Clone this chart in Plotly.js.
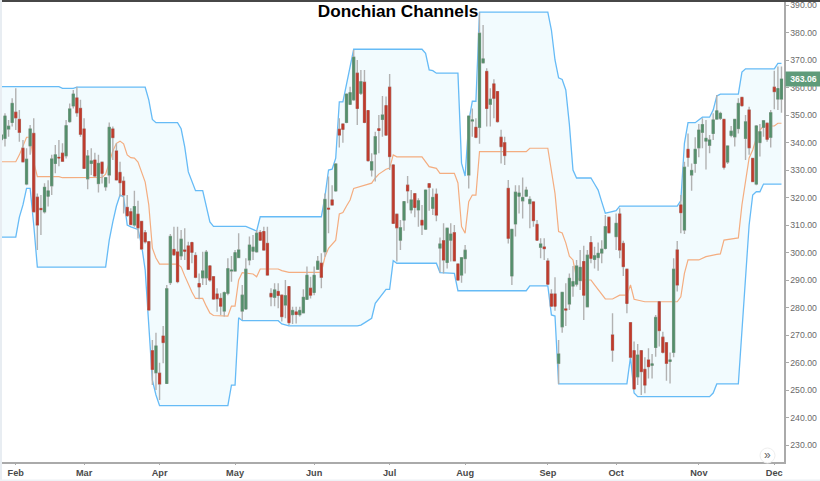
<!DOCTYPE html>
<html><head><meta charset="utf-8">
<script src="https://cdn.plot.ly/plotly-3.0.1.min.js"></script>
<style>html,body{margin:0;padding:0;background:#fff}</style></head>
<body><div id="chart" style="width:820px;height:481px"></div>
<script>
const chartTitle = "Donchian Channels";
const lastPrice = 363.06;
const monthLabels = ["Feb","Mar","Apr","May","Jun","Jul","Aug","Sep","Oct","Nov","Dec"];
const monthIndex = [4,23,44,65,87,108,129,152,171,194,215];
const priceTicks = [230,240,250,260,270,280,290,300,310,320,330,340,350,360,370,380,390];

const opens = [
341.1,341.5,344.9,347.3,351.0,348.4,337.9,324.9,338.8,343.3,
320.1,316.0,314.8,320.5,324.3,332.4,334.6,336.1,335.2,347.6,
353.3,356.2,352.4,344.9,326.8,332.4,333.6,325.1,332.8,323.9,
328.2,344.9,336.9,329.1,325.9,316.4,314.8,310.0,313.9,311.3,
307.2,303.9,264.3,256.3,256.1,269.6,252.4,289.1,301.1,300.2,
298.8,300.9,302.4,303.6,298.9,288.7,290.8,290.8,295.1,291.2,
284.9,283.3,278.7,285.2,293.3,293.3,298.2,278.7,279.5,297.3,
300.5,300.3,307.3,307.6,303.3,285.1,283.7,285.8,284.5,280.9,
287.6,277.4,278.4,277.4,278.1,283.0,287.0,285.5,293.9,296.1,
300.3,316.1,319.1,322.4,344.8,346.7,347.3,353.9,355.5,365.2,
357.9,361.9,351.6,330.0,335.8,345.0,348.4,353.4,360.1,331.8,
313.9,304.5,311.8,324.5,315.5,321.4,315.5,311.7,308.5,325.0,
316.1,321.2,301.6,304.3,296.4,304.5,307.2,295.8,291.8,297.8,
328.2,347.8,345.5,345.5,369.0,365.8,353.9,361.3,358.5,341.9,
339.9,323.3,291.5,310.4,320.5,318.8,320.5,317.8,318.4,310.2,
301.9,302.0,296.9,284.9,284.9,259.7,273.0,279.5,281.3,287.8,
288.5,289.8,296.7,280.3,303.6,297.5,298.2,299.8,301.5,312.8,
270.0,305.8,314.0,303.3,293.9,274.5,264.3,254.8,264.3,257.5,
260.9,259.0,265.5,282.1,269.2,267.2,260.4,263.7,300.9,317.3,
308.2,337.5,328.2,332.4,338.1,343.7,340.5,339.0,343.3,348.5,
348.8,348.4,332.9,342.6,342.1,345.1,356.4,341.5,351.8,334.2,
324.9,340.0,345.5,347.0,341.9,360.1,355.8,355.8];
const highs = [
344.5,350.6,348.2,356.1,359.7,351.8,340.9,337.9,346.4,348.8,
321.5,320.9,325.2,326.3,335.5,339.1,340.9,339.7,348.2,354.2,
359.1,360.3,355.5,348.8,337.3,337.9,336.3,335.5,333.0,327.2,
347.3,345.8,339.7,333.0,327.6,320.9,316.1,322.5,318.8,311.3,
308.2,303.9,268.2,270.8,259.9,273.3,288.2,306.7,309.4,309.4,
308.2,308.8,303.9,303.9,300.1,292.4,300.3,300.9,295.5,291.2,
287.0,285.2,285.8,297.9,298.7,300.9,307.0,288.2,297.9,305.8,
306.4,308.2,308.2,309.4,309.4,287.0,288.8,288.8,284.5,290.0,
287.6,280.3,280.3,280.3,286.6,294.9,291.2,294.9,298.7,299.7,
321.5,327.6,324.5,332.4,348.8,346.7,357.6,360.3,373.6,370.0,
366.4,366.4,351.6,336.1,343.9,350.0,356.9,356.7,364.9,332.2,
314.2,311.8,318.5,327.8,322.7,321.4,319.7,317.3,322.7,325.0,
323.3,323.3,305.5,310.6,308.8,310.6,310.0,295.8,298.1,302.7,
349.6,352.4,348.8,387.4,382.7,367.0,359.7,363.0,358.5,344.6,
342.1,326.4,308.4,324.5,324.5,327.3,323.9,320.5,318.4,311.8,
305.2,305.2,297.9,286.6,291.0,268.2,285.5,288.8,292.4,295.1,
297.3,300.9,302.5,300.9,306.0,302.1,303.6,304.5,313.6,312.8,
277.9,314.2,316.1,304.3,293.9,274.5,267.6,266.7,264.3,261.9,
265.2,263.1,277.3,282.1,271.2,267.2,263.6,297.9,304.2,320.9,
333.0,343.3,332.4,341.9,346.7,348.8,348.2,342.7,350.6,357.3,
351.2,348.4,338.7,346.0,348.4,356.1,356.4,350.0,353.0,334.2,
346.4,346.7,347.9,347.0,351.8,366.1,367.6,367.6];
const lows = [
339.7,338.5,342.1,345.8,344.5,340.3,333.0,324.5,335.5,314.8,
300.9,306.4,314.2,316.7,320.9,328.8,331.4,333.2,334.2,347.2,
352.4,349.4,342.1,330.6,323.0,328.2,327.6,321.8,325.1,322.5,
325.1,333.6,326.4,320.3,314.2,313.0,310.0,309.4,305.1,300.9,
303.3,279.1,251.8,250.0,246.4,259.7,252.4,288.2,298.7,288.8,
297.3,297.3,293.6,296.1,290.6,283.0,288.2,288.2,289.4,282.7,
278.5,277.3,276.7,284.5,289.4,293.0,297.9,275.5,279.1,295.4,
297.3,299.9,304.5,300.9,291.6,280.5,280.5,279.7,274.9,276.1,
273.6,274.0,274.2,276.7,277.9,282.7,283.3,284.5,293.6,287.0,
298.5,307.0,317.3,322.1,338.2,339.9,347.0,353.6,355.2,346.4,
357.3,347.0,333.0,327.6,325.8,336.1,342.1,342.4,330.0,310.4,
296.7,300.9,307.9,317.9,314.2,312.8,309.4,306.4,308.2,315.2,
313.6,311.4,292.8,292.4,294.2,296.7,296.7,289.8,289.0,292.4,
323.3,342.1,341.5,339.5,368.8,345.8,345.8,348.8,347.2,332.4,
331.8,303.3,288.2,305.8,314.2,312.4,320.3,308.8,309.4,304.5,
297.9,297.3,288.2,280.3,278.8,252.2,270.8,273.3,279.1,283.9,
287.6,286.4,275.5,280.3,296.1,294.2,293.4,296.1,301.1,307.0,
260.3,300.9,297.9,291.5,277.9,261.5,250.0,251.8,248.2,248.8,
254.2,254.2,262.1,265.8,263.3,253.4,252.4,261.9,285.8,307.0,
306.7,331.2,322.5,329.0,334.6,337.9,330.2,336.1,340.9,348.5,
348.2,330.2,332.2,341.9,338.5,343.3,353.0,333.6,335.5,325.8,
324.5,334.9,342.1,340.3,338.2,352.1,351.8,350.8];
const closes = [
342.7,349.6,345.9,354.2,349.0,343.7,333.0,333.9,344.9,314.8,
310.0,315.6,323.7,322.4,334.0,335.5,334.4,333.2,346.1,352.2,
357.6,350.8,343.0,330.6,335.1,333.3,327.8,332.4,328.8,327.2,
345.5,341.8,326.4,325.4,320.9,313.4,310.2,316.7,309.0,301.3,
303.9,279.1,257.5,266.0,252.2,267.3,286.8,305.8,299.2,289.4,
304.8,300.5,293.9,300.1,291.0,287.5,293.3,300.1,290.0,283.1,
283.2,280.5,285.4,294.1,293.6,299.9,300.9,284.5,293.9,302.7,
301.9,307.0,304.5,300.9,291.8,283.9,286.4,284.4,276.7,284.3,
274.5,278.9,277.5,278.9,283.7,291.7,284.5,291.7,296.8,291.0,
319.3,315.8,317.3,332.2,342.7,344.8,357.6,358.1,371.0,352.4,
362.1,347.3,333.4,333.0,342.1,344.4,350.0,342.7,334.9,310.6,
309.0,309.0,318.5,322.4,319.1,316.4,318.8,310.0,322.7,323.7,
320.0,313.6,303.1,297.3,308.8,306.7,297.0,290.0,298.1,300.8,
349.6,348.2,341.9,379.7,370.4,352.4,355.7,356.1,347.6,338.5,
335.3,305.2,308.4,321.9,321.6,320.0,322.7,319.3,311.6,304.5,
303.1,301.4,288.5,280.5,280.5,263.1,285.5,279.1,290.6,289.4,
295.1,294.6,284.5,299.0,297.9,298.8,299.7,301.2,309.4,307.2,
264.5,310.6,300.9,294.9,281.5,261.9,250.4,262.7,256.7,251.8,
258.5,259.5,276.4,271.6,263.7,259.7,260.9,293.9,288.2,314.5,
331.0,334.6,329.8,337.5,344.5,346.5,341.5,340.9,348.2,351.5,
350.6,331.0,338.7,344.1,348.4,354.2,353.4,347.5,338.1,325.8,
346.0,343.9,347.9,341.2,350.8,358.5,359.6,363.06];

const upperIdx = [0,16,17,20,21,40,41,42,43,49,50,51,52,54,56,57,58,59,68,71,72,89,90,91,92,93,94,95,96,97,98,117,118,119,120,121,127,128,129,130,131,132,133,152,153,154,155,156,157,158,159,160,164,165,166,167,168,169,171,172,188,189,190,191,193,195,197,198,199,200,205,206,207,215,216,217];
const upperVal = [360.3,360.3,359.7,359.7,360.1,360.1,355.5,348.4,347.2,347.2,345.0,338.4,329.3,322.5,322.5,317.3,311.1,309.5,309.5,307.8,313.0,313.0,320.3,330.0,330.3,334.3,354.8,354.8,360.9,367.6,373.9,373.9,372.4,366.4,366.1,365.2,365.2,332.5,327.8,347.5,355.0,355.0,387.4,387.4,380.9,370.0,363.5,362.9,359.1,346.6,330.0,327.1,327.1,324.9,322.7,318.4,314.3,314.6,315.2,316.9,316.9,318.9,339.7,347.2,347.2,349.2,349.2,351.8,356.9,357.6,357.6,365.6,366.8,366.8,368.8,368.8];
const lowerIdx = [0,4,5,6,7,8,9,10,29,30,31,32,33,34,35,36,38,39,40,41,42,43,44,63,64,65,66,67,77,78,80,99,100,101,103,104,105,107,108,109,110,121,122,126,127,146,147,152,153,154,155,174,175,176,177,197,198,199,205,206,207,208,209,210,211,212,217];
const lowerVal = [305.6,305.6,312.9,317.3,323.3,323.3,310.0,294.7,294.7,304.5,311.1,316.9,320.9,320.2,310.0,309.3,308.4,302.7,293.6,271.8,253.6,248.2,244.3,244.3,251.8,251.8,276.3,275.2,275.2,274.0,273.3,273.3,273.6,274.4,276.1,281.5,283.1,286.6,286.6,297.0,296.1,296.1,292.7,292.4,286.1,286.1,287.9,287.9,277.3,276.9,252.2,252.2,262.0,248.9,247.6,247.6,248.9,252.2,252.2,271.8,291.8,310.0,320.9,322.1,322.1,324.9,324.9];
const midIdx = [0,4,5,6,7,8,9,10,16,17,28,29,30,31,32,33,34,35,36,37,38,39,40,41,42,43,44,49,50,51,52,53,54,56,57,58,59,63,64,65,66,67,70,71,72,77,78,80,89,90,91,92,93,94,95,96,97,98,103,104,105,107,108,109,110,117,119,121,122,126,127,128,129,130,131,132,133,146,147,152,153,154,155,156,157,158,159,160,161,164,165,166,167,168,170,172,174,175,176,177,179,188,189,190,191,194,196,199,200,201,205,206,207,208,209,210,211,212,215,216,217];
const midVal = [333.0,333.0,335.5,338.4,341.9,341.9,332.9,327.6,327.6,327.2,327.3,328.5,332.5,336.9,339.7,340.5,339.5,335.5,334.5,334.3,332.9,329.3,325.6,317.3,301.6,298.0,295.8,295.8,294.7,291.5,288.5,285.6,283.3,283.3,280.5,278.0,277.1,276.9,280.5,280.5,290.0,292.7,292.2,291.2,294.0,294.0,293.4,292.8,292.8,298.4,301.5,303.1,304.5,314.0,314.5,316.9,319.1,323.3,325.2,327.1,328.5,330.3,330.7,335.5,334.8,334.8,331.2,330.6,328.8,328.8,325.3,309.4,307.0,318.5,320.9,320.9,336.7,336.7,337.9,337.9,329.3,321.5,307.6,307.1,303.5,298.7,297.3,290.7,290.0,290.0,288.2,286.4,284.5,283.1,283.1,284.5,284.5,288.2,283.0,282.7,282.1,282.1,283.9,292.4,297.3,297.3,298.5,299.3,299.5,304.5,305.3,317.3,326.4,334.4,337.3,341.6,344.5,346.0,346.0,347.0,347.0];

const idx = opens.map((_, i) => i);
const bandBlue = '#66bbf6', midOrange = '#f4ad80';
const upGreen = '#558f6c', downRed = '#bf3b2c', wickGray = '#b2b2b2';
const W = 820, H = 481, mL = 2, mR = 36, mT = 2, mB = 19;
const pw = W - mL - mR, ph = H - mT - mB;
const px = x => (x - mL) / pw, py = y => 1 - (y - mT) / ph;
const xRange = [0.17,217.7], yRange = [223.82,391.09];

const traces = [
  {type:'scatter',mode:'lines',x:lowerIdx,y:lowerVal,line:{color:bandBlue,width:1.3},hoverinfo:'skip'},
  {type:'scatter',mode:'lines',x:upperIdx,y:upperVal,line:{color:bandBlue,width:1.3},fill:'tonexty',fillcolor:'#f2fbfe',hoverinfo:'skip'},
  {type:'scatter',mode:'lines',x:midIdx,y:midVal,line:{color:midOrange,width:1.2},hoverinfo:'skip'},
  {type:'candlestick',xaxis:'x2',yaxis:'y2',x:idx,open:opens,high:highs,low:lows,close:closes,whiskerwidth:0,
    increasing:{line:{color:wickGray,width:1.4},fillcolor:wickGray},
    decreasing:{line:{color:wickGray,width:1.4},fillcolor:wickGray},hoverinfo:'skip'},
  {type:'candlestick',xaxis:'x2',yaxis:'y2',x:idx,open:opens,close:closes,
    high:idx.map(i=>Math.max(opens[i],closes[i])),low:idx.map(i=>Math.min(opens[i],closes[i])),whiskerwidth:0,
    increasing:{line:{color:upGreen,width:0.7},fillcolor:upGreen},
    decreasing:{line:{color:downRed,width:0.7},fillcolor:downRed},hoverinfo:'skip'}
];
const layout = {
  width:W,height:H,autosize:false,showlegend:false,
  margin:{l:mL,r:mR,t:mT,b:mB,pad:0},
  paper_bgcolor:'#fff',plot_bgcolor:'#fff',boxmode:'overlay',boxgap:0.2,
  font:{family:'"Liberation Sans",Arial,sans-serif'},
  title:{text:chartTitle,x:398/W,xanchor:'center',xref:'container',y:1-11/H,yanchor:'middle',yref:'container',
    font:{family:'"Liberation Sans",Arial,sans-serif',size:17.2,color:'#000',weight:700}},
  xaxis:{type:'linear',range:xRange,showgrid:false,zeroline:false,
    tickmode:'array',tickvals:monthIndex,ticktext:monthLabels,ticks:'outside',ticklen:1,tickcolor:'#aaa',
    tickfont:{size:9.2,color:'#4a4a4a',weight:700},showline:true,linecolor:'#aaa',linewidth:1.5},
  yaxis:{side:'right',range:yRange,showgrid:false,zeroline:false,
    tickmode:'array',tickvals:priceTicks,ticktext:priceTicks.map(v=>v.toFixed(2)),ticks:'outside',ticklen:3,tickcolor:'#aaa',
    tickfont:{size:8.7,color:'#6a6a6a'},showline:true,linecolor:'#aaa',linewidth:1.5},
  xaxis2:{type:'linear',range:xRange,overlaying:'x',anchor:'y2',visible:false,rangeslider:{visible:false}},
  yaxis2:{range:yRange,overlaying:'y',anchor:'x2',visible:false},
  shapes:[
    {type:'rect',xref:'paper',yref:'paper',x0:px(0),x1:px(2),y0:py(481),y1:py(0),fillcolor:'#e8edf2',line:{width:0}},
    {type:'rect',xref:'paper',yref:'paper',x0:px(0),x1:px(820),y0:py(481),y1:py(479.5),fillcolor:'#eef2f6',line:{width:0}},
    {type:'rect',xref:'paper',yref:'paper',x0:px(2),x1:px(820),y0:py(2),y1:py(0),fillcolor:'#474747',line:{width:0}},
    {type:'circle',xref:'paper',yref:'paper',x0:px(760),x1:px(775),y0:py(463),y1:py(448),fillcolor:'#fff',line:{color:'#eeeeee',width:1}}
  ],
  annotations:[
    {xref:'paper',yref:'y',x:px(785),y:lastPrice,xanchor:'left',yanchor:'middle',showarrow:false,text:lastPrice.toFixed(2),
      bgcolor:'#5f9b7a',width:35,height:14,borderpad:0,font:{size:8.7,color:'#fff',weight:700}},
    {xref:'paper',yref:'paper',x:px(767.5),y:py(454.5),xanchor:'center',yanchor:'middle',showarrow:false,text:'»',
      font:{size:12,color:'#666'}}
  ]
};
Plotly.newPlot('chart',traces,layout,{staticPlot:true,displayModeBar:false});
</script></body></html>
